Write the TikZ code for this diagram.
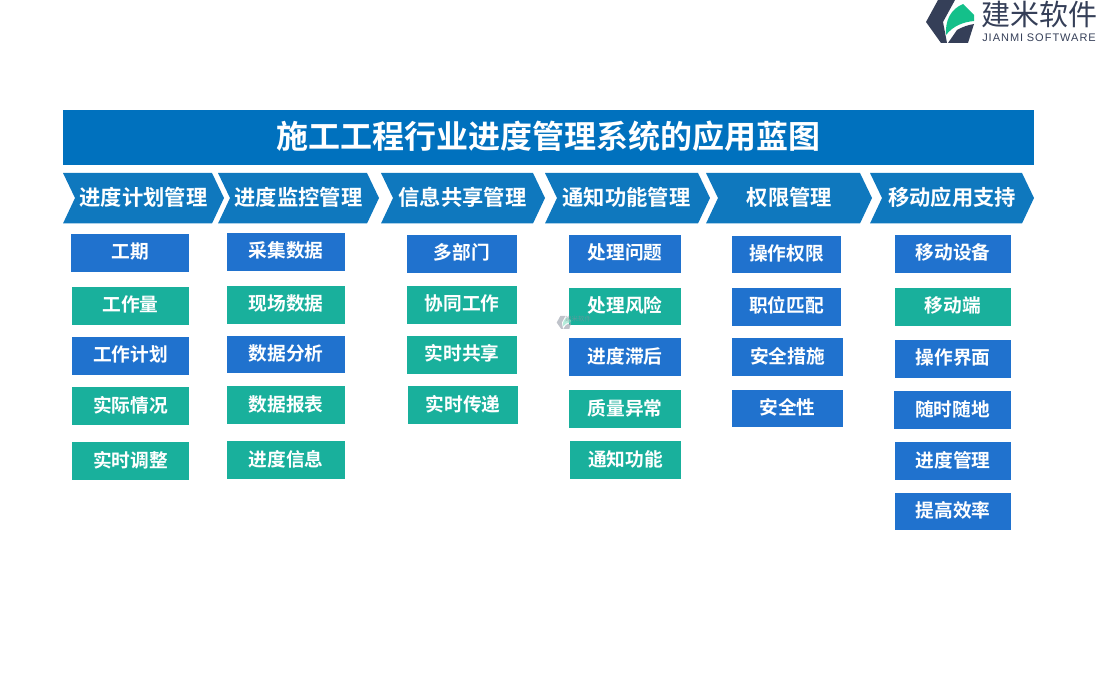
\documentclass[tikz,border=0pt]{standalone}
\usepackage{fontspec}
\setmainfont{Liberation Sans}
\newfontfamily\cjk[BoldFont={Noto Sans CJK SC Bold}]{Noto Sans CJK SC}
\definecolor{titleblue}{HTML}{0071BE}
\definecolor{arrowblue}{HTML}{0F78BE}
\definecolor{boxblue}{HTML}{2072CE}
\definecolor{boxteal}{HTML}{19B09C}
\definecolor{logodark}{HTML}{353F58}
\definecolor{logogreen}{HTML}{14C08A}
\tikzset{
  cbox/.style={inner sep=0pt,text=white,text height=13pt,text depth=1pt,font=\cjk\bfseries\fontsize{18.7}{18.7}\selectfont},
  bluebox/.style={cbox,fill=boxblue},
  tealbox/.style={cbox,fill=boxteal},
  headtext/.style={inner sep=0pt,text=white,text height=16pt,text depth=0pt,font=\cjk\bfseries\fontsize{21.3}{21.3}\selectfont}
}
% one header arrow: left, right, name, text centre, text
\newcommand{\headarrow}[5]{%
  \fill [arrowblue] (#1,173) -- (#2-12,173) -- (#2,198) -- (#2-12,223.5) -- (#1,223.5) -- (#1+12,198) -- cycle;
  \node [headtext] (#3) at (#4,198) {#5};
}
% one box given by its edges
\newcommand{\itembox}[7]{%
  \node [#1,minimum width=#4-#3,minimum height=#6-#5] (#2) at ({(#3+#4)/2},{(#5+#6)/2}) {#7};
}
\newcommand{\logomark}[1]{%
  \fill (11,0) -- (28,0) -- (16,22) -- (20,43) -- (14,43) -- (-1,22) -- cycle;
  \fill (21,43) -- (30,30) .. controls (35,27) and (41,25) .. (47,24) -- (41,43) -- cycle;
  \fill [#1] (19,35) .. controls (18,20) and (24,9) .. (36,4) -- (47,15) -- (47,21) .. controls (36,22) and (26,26) .. (19,35) -- cycle;
}
\begin{document}
\begin{tikzpicture}[x=1pt,y=-1pt]
\useasboundingbox (0,0) rectangle (1100,700);

% logo
\begin{scope}[shift={(927,0)},logodark]
\logomark{logogreen}
\end{scope}
\node [inner sep=0pt,text=logodark,font=\cjk\fontsize{29}{29}\selectfont] (logotext) at (1039,14) {建米软件};
\node [inner sep=0pt,text=logodark,font=\fontsize{11}{11}\selectfont,text width=120pt,align=center] (logosub) at (1039,38) {\addfontfeature{LetterSpace=9}JIANMI SOFTWARE};

% title
\node [fill=titleblue,inner sep=0pt,minimum width=971,minimum height=55,text=white,text height=22.4pt,text depth=0pt,font=\cjk\bfseries\fontsize{32}{32}\selectfont] (title) at (548.5,137.5) {施工工程行业进度管理系统的应用蓝图};

% header row
\headarrow{63}{224}{head1}{143.5}{进度计划管理}
\headarrow{218}{379}{head2}{298.5}{进度监控管理}
\headarrow{381}{545}{head3}{462.5}{信息共享管理}
\headarrow{545}{710}{head4}{626.5}{通知功能管理}
\headarrow{706}{872}{head5}{789.5}{权限管理}
\headarrow{870}{1034}{head6}{952}{移动应用支持}

% column 1
\itembox{bluebox}{a1}{71}{189}{234}{272}{工期}
\itembox{tealbox}{a2}{72}{189}{287}{325}{工作量}
\itembox{bluebox}{a3}{72}{189}{337}{375}{工作计划}
\itembox{tealbox}{a4}{72}{189}{387}{425}{实际情况}
\itembox{tealbox}{a5}{72}{189}{442}{480}{实时调整}
% column 2
\itembox{bluebox}{b1}{227}{345}{233}{271}{采集数据}
\itembox{tealbox}{b2}{227}{345}{286}{324}{现场数据}
\itembox{bluebox}{b3}{227}{345}{336}{373}{数据分析}
\itembox{tealbox}{b4}{227}{345}{386}{424}{数据报表}
\itembox{tealbox}{b5}{227}{345}{441}{479}{进度信息}
% column 3
\itembox{bluebox}{c1}{407}{517}{235}{273}{多部门}
\itembox{tealbox}{c2}{407}{517}{286}{324}{协同工作}
\itembox{tealbox}{c3}{407}{517}{336}{374}{实时共享}
\itembox{tealbox}{c4}{408}{518}{386}{424}{实时传递}
% column 4
\itembox{bluebox}{d1}{569}{681}{235}{273}{处理问题}
\itembox{tealbox}{d2}{569}{681}{288}{325}{处理风险}
\itembox{bluebox}{d3}{569}{681}{338}{376}{进度滞后}
\itembox{tealbox}{d4}{569}{681}{390}{428}{质量异常}
\itembox{tealbox}{d5}{570}{681}{441}{479}{通知功能}
% column 5
\itembox{bluebox}{e1}{732}{841}{236}{273}{操作权限}
\itembox{bluebox}{e2}{732}{841}{288}{326}{职位匹配}
\itembox{bluebox}{e3}{732}{843}{338}{376}{安全措施}
\itembox{bluebox}{e4}{732}{843}{390}{427}{安全性}
% column 6
\itembox{bluebox}{f1}{895}{1011}{235}{273}{移动设备}
\itembox{tealbox}{f2}{895}{1011}{288}{326}{移动端}
\itembox{bluebox}{f3}{895}{1011}{340}{378}{操作界面}
\itembox{bluebox}{f4}{894}{1011}{391}{429}{随时随地}
\itembox{bluebox}{f5}{895}{1011}{442}{480}{进度管理}
\itembox{bluebox}{f6}{895}{1011}{493}{530}{提高效率}

% watermark
\begin{scope}[shift={(557,316)},scale=0.3,logodark!45,opacity=0.7]
\logomark{logogreen!45}
\end{scope}
\node [inner sep=0pt,text=logodark!60,opacity=0.6,font=\cjk\fontsize{6.5}{6.5}\selectfont] (marktext) at (578,319.5) {建米软件};
\end{tikzpicture}
\end{document}
